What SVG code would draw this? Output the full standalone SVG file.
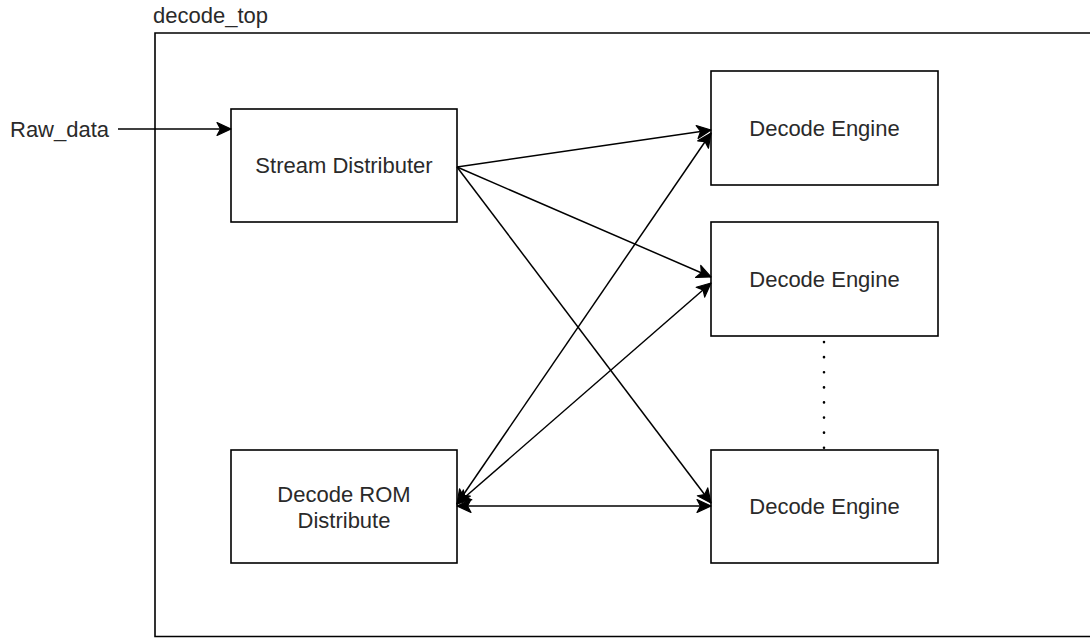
<svg xmlns="http://www.w3.org/2000/svg" width="1090" height="638" viewBox="0 0 1090 638">
<style>
.box{fill:#fff;stroke:#000;stroke-width:1.6}
.frame{fill:none;stroke:#000;stroke-width:1.6}
.lbl{font-family:"Liberation Sans",Arial,sans-serif;font-size:22px;fill:#2a2a2a;text-anchor:middle}
.lbl-l{font-family:"Liberation Sans",Arial,sans-serif;font-size:22px;fill:#2a2a2a}
.edge{fill:none;stroke:#000;stroke-width:1.5}
.dots{fill:none;stroke:#000;stroke-width:2.6;stroke-linecap:round;stroke-dasharray:0.1 15}
</style>
<defs>
<marker id="arr" markerUnits="userSpaceOnUse" markerWidth="16" markerHeight="14" refX="14" refY="7" orient="auto-start-reverse" overflow="visible">
<path d="M0,0.5 L14,7 L0,13.5 L3.5,7 Z" fill="#000" stroke="#000" stroke-width="1.2" stroke-linejoin="round"/>
</marker>
</defs>
<rect width="1090" height="638" fill="#fff"/>
<g id="decode_top">
<path class="frame" d="M1095,33 H155 V636.5 H1095"/>
<text class="lbl-l" x="153" y="23">decode_top</text>
</g>
<g id="raw_data">
<text class="lbl-l" x="10" y="137">Raw_data</text>
</g>
<g id="stream_distributer">
<rect class="box" x="231" y="109" width="226" height="113"/>
<text class="lbl" x="344" y="173">Stream Distributer</text>
</g>
<g id="decode_rom">
<rect class="box" x="231" y="450" width="226" height="113"/>
<text class="lbl" x="344" y="502">Decode ROM</text>
<text class="lbl" x="344" y="528">Distribute</text>
</g>
<g id="engine1">
<rect class="box" x="711" y="71" width="227" height="114"/>
<text class="lbl" x="824.5" y="136">Decode Engine</text>
</g>
<g id="engine2">
<rect class="box" x="711" y="222" width="227" height="114"/>
<text class="lbl" x="824.5" y="287">Decode Engine</text>
</g>
<g id="engine3">
<rect class="box" x="711" y="450" width="227" height="113"/>
<text class="lbl" x="824.5" y="514">Decode Engine</text>
</g>
<g id="connectors">
<line class="edge" x1="118" y1="129" x2="231" y2="129" marker-end="url(#arr)"/>
<line class="edge" x1="457" y1="167" x2="711" y2="130" marker-end="url(#arr)"/>
<line class="edge" x1="457" y1="167" x2="711" y2="277" marker-end="url(#arr)"/>
<line class="edge" x1="457" y1="167" x2="711" y2="503" marker-end="url(#arr)"/>
<line class="edge" x1="457" y1="504" x2="711" y2="133" marker-start="url(#arr)" marker-end="url(#arr)"/>
<line class="edge" x1="457" y1="504" x2="711" y2="283" marker-start="url(#arr)" marker-end="url(#arr)"/>
<line class="edge" x1="457" y1="506" x2="711" y2="506" marker-start="url(#arr)" marker-end="url(#arr)"/>
<line class="dots" x1="824" y1="342" x2="824" y2="450"/>
</g>
</svg>
